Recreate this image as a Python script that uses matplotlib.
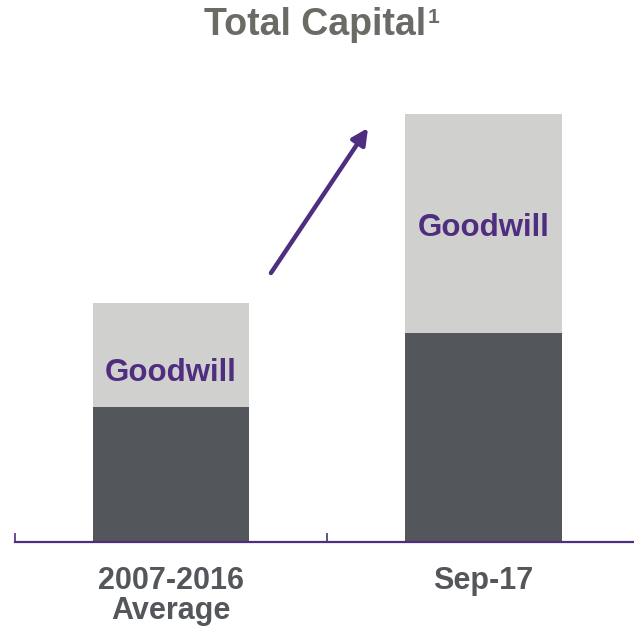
import matplotlib
matplotlib.use("Agg")
import matplotlib.pyplot as plt
from matplotlib.transforms import blended_transform_factory

categories = ["2007-2016\nAverage", "Sep-17"]
core_capital = [135, 209]
goodwill = [104, 219]
goodwill_label_y = [161, 306]

DARK = "#53565a"
LIGHT = "#d0d0ce"
PURPLE = "#4f2d7f"
TITLE_GRAY = "#6b6b66"
FONT = "Liberation Sans"

plt.rcParams["font.family"] = [FONT, "DejaVu Sans"]

W, H = 634, 633
fig = plt.figure(figsize=(W / 100, H / 100), dpi=100)
ax = fig.add_axes([14.7 / W, 91 / H, 625 / W, 500 / H])

x = list(range(len(categories)))
ax.bar(x, core_capital, width=0.5, color=DARK, zorder=2)
ax.bar(x, goodwill, width=0.5, bottom=core_capital, color=LIGHT, zorder=2)

for xi, yl in zip(x, goodwill_label_y):
    ax.text(xi, yl, "Goodwill", ha="center", va="baseline", color=PURPLE,
            fontsize=22.5, fontweight="bold")

ax.set_xlim(-0.5, 1.5)
ax.set_ylim(0, 500)

for s in ["top", "right", "left"]:
    ax.spines[s].set_visible(False)
ax.spines["bottom"].set_color(PURPLE)
ax.spines["bottom"].set_linewidth(1.6)
ax.set_yticks([])
ax.set_xticks(x)
ax.set_xticklabels([])
ax.tick_params(axis="x", which="major", length=0)
ax.set_xticks([-0.5, 0.5, 1.5], minor=True)
ax.tick_params(axis="x", which="minor", direction="in", length=6.5,
               width=1.2, color=PURPLE)

# category labels
tr = blended_transform_factory(ax.transData, fig.transFigure)
label_baselines = [[589, 619], [589]]
for xi, lab, bls in zip(x, categories, label_baselines):
    for line, bl in zip(lab.split("\n"), bls):
        ax.text(xi, (H - bl) / H, line, transform=tr, ha="center",
                va="baseline", fontsize=22, fontweight="bold", color=DARK)

# arrow
ax.annotate("", xy=(0.6306, 414), xytext=(0.320, 269),
            arrowprops=dict(arrowstyle="-|>", lw=3.2, color=PURPLE,
                            mutation_scale=24, shrinkA=0, shrinkB=0))

# title
fig.text(315 / W, (H - 35) / H, "Total Capital", ha="center", va="baseline",
         fontsize=27, fontweight="bold", color=TITLE_GRAY)
fig.text(428 / W, (H - 23) / H, "1", ha="left", va="baseline",
         fontsize=15, fontweight="bold", color=TITLE_GRAY)

fig.savefig("out.png", dpi=100)
